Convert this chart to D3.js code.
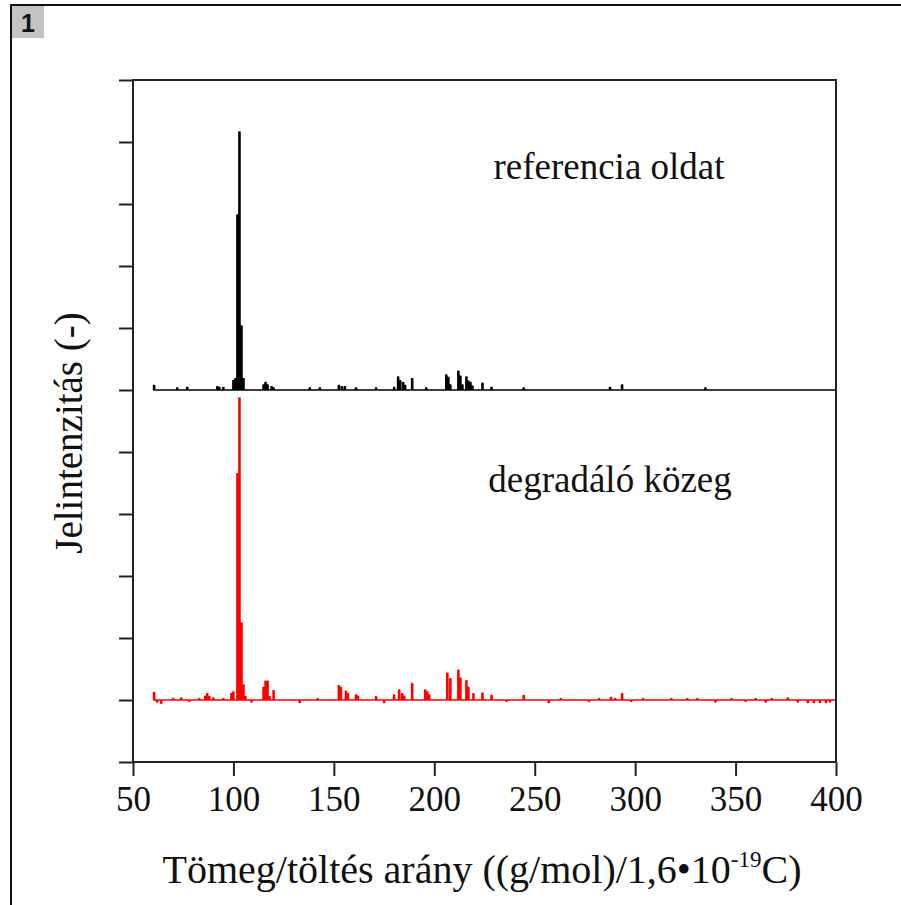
<!DOCTYPE html>
<html lang="hu">
<head>
<meta charset="UTF-8">
<title>Tömegspektrum</title>
<script src="https://d3js.org/d3.v7.min.js"></script>
<style>
    body { margin: 0; background: #fff; }
    svg { display: block; }
    .serif { font-family: "Liberation Serif", "Times New Roman", serif; fill: #111; }
</style>
</head>
<body>
<div id="chart"></div>
<script>
// m/z és intenzitás (egység = egy y-osztás) a két spektrumhoz
const refMz = [60.5, 72, 77, 92, 93, 95, 100, 101, 102, 103, 104, 105, 115, 116, 117, 119, 120, 138, 143,
    152.5, 154, 155.5, 161, 171, 180, 182, 183, 184.5, 185.5, 189, 196, 206, 207, 208, 212, 213, 214,
    216, 217, 218, 219, 224, 228.5, 244.5, 287.5, 293.5, 335];
const refInt = [0.07, 0.03, 0.04, 0.05, 0.04, 0.04, 0.15, 0.18, 2.82, 4.16, 1.03, 0.18, 0.08, 0.12, 0.08, 0.05, 0.03, 0.03, 0.03,
    0.07, 0.05, 0.05, 0.03, 0.03, 0.04, 0.21, 0.15, 0.12, 0.07, 0.18, 0.03, 0.24, 0.2, 0.08, 0.30, 0.22, 0.08,
    0.21, 0.14, 0.12, 0.06, 0.11, 0.04, 0.03, 0.04, 0.08, 0.03];

const degMz = [60.5, 62, 64, 70, 74, 78, 83, 86, 87, 88, 90, 95, 99, 100, 102, 103, 104, 105, 106, 109,
    115, 116, 117, 118, 120, 133, 142, 152.5, 153.5, 156, 157, 161, 162, 171, 175, 180, 182.5, 184, 185,
    189, 195.5, 196.5, 197.5, 206.5, 208, 212, 213, 216, 217, 219.5, 224, 228.5, 236, 244.5, 257, 263,
    277, 282, 288, 290, 293.5, 298, 304, 318, 326, 331, 340, 348, 355, 360, 365, 368, 376, 381, 386,
    389, 392, 395, 397];
const degInt = [0.12, -0.03, -0.05, 0.02, 0.03, -0.02, 0.02, 0.06, 0.1, 0.05, 0.03, 0.02, 0.1, 0.13, 3.65, 4.87, 1.24, 0.24, 0.05, -0.03,
    0.2, 0.3, 0.3, 0.05, 0.15, -0.04, 0.02, 0.23, 0.2, 0.14, 0.1, 0.08, 0.06, 0.05, -0.04, 0.08, 0.16, 0.1, 0.06,
    0.26, 0.16, 0.13, 0.08, 0.43, 0.34, 0.48, 0.35, 0.31, 0.2, 0.1, 0.11, 0.07, -0.02, 0.07, -0.04, 0.02,
    -0.02, 0.02, 0.04, 0.02, 0.1, -0.02, 0.02, 0.02, 0.02, 0.02, -0.03, 0.02, -0.02, 0.02, -0.03, 0.02, 0.03, -0.03, -0.04,
    -0.04, -0.04, -0.04, -0.03];

const xTicks = [50, 100, 150, 200, 250, 300, 350, 400];
const yTicks = [-1, 0, 1, 2, 3, 4, 5, 6, 7, 8, 9, 10];
const refOffset = 5;   // a felső spektrum alapvonala
const degOffset = 0;

const width = 901, height = 905;
const svg = d3.select("#chart").append("svg")
    .attr("width", width)
    .attr("height", height);

// keret és "1" címke
svg.append("line").attr("x1", 10).attr("x2", width).attr("y1", 5).attr("y2", 5)
    .attr("stroke", "#111").attr("stroke-width", 2);
svg.append("line").attr("x1", 11).attr("x2", 11).attr("y1", 5).attr("y2", height)
    .attr("stroke", "#111").attr("stroke-width", 2);
svg.append("rect").attr("x", 12).attr("y", 6).attr("width", 32).attr("height", 32).attr("fill", "#c3c3c3");
svg.append("text").attr("x", 28).attr("y", 32).attr("text-anchor", "middle")
    .style("font-family", "Liberation Sans, Arial, sans-serif").style("font-weight", "bold")
    .style("font-size", "25px").attr("fill", "#111").text("1");

const x = d3.scaleLinear().domain([50, 400]).range([133, 836]);
const y = d3.scaleLinear().domain([-1, 10]).range([762, 80]);

// spektrum vonal: minden csúcs keskeny lépcső az alapvonalról
function stickPath(mz, inten, offset) {
    const pts = [[60, offset]];
    mz.forEach((m, i) => {
        pts.push([m - 0.25, offset], [m - 0.25, offset + inten[i]], [m + 0.25, offset + inten[i]], [m + 0.25, offset]);
    });
    pts.push([400, offset]);
    return d3.line().x(d => x(d[0])).y(d => y(d[1]))(pts);
}

svg.append("path")
    .attr("d", stickPath(degMz, degInt, degOffset))
    .attr("fill", "none").attr("stroke", "#ff0000").attr("stroke-width", 1.6)
    .attr("stroke-linejoin", "round");

svg.append("path")
    .attr("d", stickPath(refMz, refInt, refOffset))
    .attr("fill", "none").attr("stroke", "#000").attr("stroke-width", 1.6)
    .attr("stroke-linejoin", "round");

// tengelyek
const axisColor = "#222";
svg.append("rect").attr("x", x(50)).attr("y", y(10))
    .attr("width", x(400) - x(50)).attr("height", y(-1) - y(10))
    .attr("fill", "none").attr("stroke", axisColor).attr("stroke-width", 2);

const xAxis = svg.append("g")
    .attr("transform", `translate(0,${y(-1)})`)
    .call(d3.axisBottom(x).tickValues(xTicks).tickSize(14).tickSizeOuter(0).tickPadding(10));
xAxis.select(".domain").remove();
xAxis.selectAll("line").attr("stroke", axisColor).attr("stroke-width", 2);
xAxis.selectAll("text").attr("class", "serif").style("font-size", "35px").attr("fill", "#111");

const yAxis = svg.append("g")
    .attr("transform", `translate(${x(50)},0)`)
    .call(d3.axisLeft(y).tickValues(yTicks).tickSize(14).tickFormat(""));
yAxis.select(".domain").remove();
yAxis.selectAll("line").attr("stroke", axisColor).attr("stroke-width", 2);

// feliratok
svg.append("text").attr("class", "serif")
    .attr("x", 609).attr("y", 179).attr("text-anchor", "middle")
    .style("font-size", "37px").text("referencia oldat");
svg.append("text").attr("class", "serif")
    .attr("x", 610).attr("y", 492).attr("text-anchor", "middle")
    .style("font-size", "37px").text("degradáló közeg");

svg.append("text").attr("class", "serif")
    .attr("transform", "translate(82,433) rotate(-90)")
    .attr("text-anchor", "middle")
    .style("font-size", "39px").text("Jelintenzitás (-)");

const xl = svg.append("text").attr("class", "serif")
    .attr("x", 482).attr("y", 883).attr("text-anchor", "middle")
    .style("font-size", "40px");
xl.append("tspan").text("Tömeg/töltés arány ((g/mol)/1,6•10");
xl.append("tspan").attr("dy", -16).style("font-size", "23px").text("-19");
xl.append("tspan").attr("dy", 16).text("C)");
</script>
</body>
</html>
